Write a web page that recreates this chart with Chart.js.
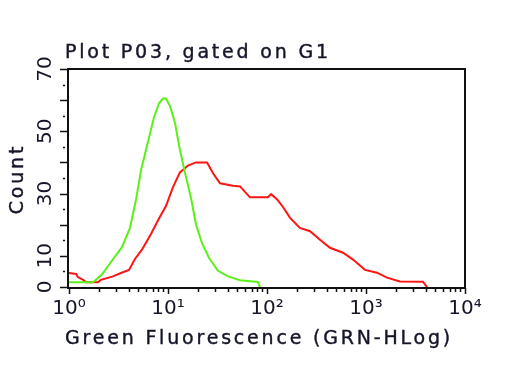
<!DOCTYPE html>
<html>
<head>
<meta charset="utf-8">
<script src="https://cdn.jsdelivr.net/npm/chart.js@4"></script>
<style>
  html, body { margin: 0; padding: 0; background: #fff; }
</style>
</head>
<body>
<canvas id="histChart" width="512" height="384"></canvas>
<script>
(() => {
  "use strict";

  const plotTitle = "Plot P03, gated on G1";
  const xTitle = "Green Fluorescence (GRN-HLog)";
  const yTitle = "Count";

  // tick labels
  const xTickLabels = ["10⁰", "10¹", "10²", "10³", "10⁴"];
  const yTickLabels = [0, 10, 30, 50, 70];

  // green histogram (control)
  const greenX = [1, 1.75, 2.15, 2.72, 3.43, 4.13, 4.75, 5.34, 6.21, 7.22, 8.11, 8.9, 9.54,
    10.5, 11.8, 13.2, 14.9, 17.1, 19.2, 22.1, 26, 32, 40.4, 53.4, 81, 85];
  const greenY = [1.5, 1.5, 4, 8.5, 12.8, 19, 28, 37.5, 46, 54.5, 59, 60.5, 60.5,
    58, 52.5, 44, 36.5, 28.5, 20, 14, 9.3, 5.2, 3.4, 2.2, 1.6, 0];

  // red histogram (stained)
  const redX = [1, 1.18, 1.23, 1.39, 1.49, 1.96, 2.1, 2.78, 3.35, 4.04, 4.64, 5.46, 6.73,
    8.11, 9.54, 11.2, 13.2, 15.9, 19.2, 24.8, 28.5, 33.5, 45.4, 53.4, 67.3, 102, 110, 126,
    145, 171, 215, 272, 343, 433, 586, 739, 977, 1291, 1630, 2205, 3765, 4130];
  const redY = [4.5, 4.2, 3.2, 2.3, 1.5, 1.5, 2.3, 3.4, 4.5, 5.5, 9, 12, 17,
    22, 26, 32, 36.8, 39, 40, 40, 36.5, 33.3, 32.5, 32.3, 28.8, 28.8, 29.8, 28.2,
    25.7, 22.2, 19, 17.9, 15.2, 12.6, 11, 8.8, 5.5, 4.6, 3, 1.8, 1.7, 0];

  const textColor = "#15152a";
  const fontFamily = "'DejaVu Sans', Verdana, sans-serif";

  const toPoints = (xs, ys) => xs.map((x, i) => ({ x: x, y: ys[i] }));

  // spaced-out text, slightly heavier like the source software
  const spacedText = (ctx, text, x, y) => {
    ctx.fillText(text, x, y);
    ctx.strokeText(text, x, y);
  };

  // frame, tick marks and titles
  const frame = {
    id: "frame",
    afterDraw(chart) {
      const { ctx, chartArea: a, scales } = chart;
      const x = scales.x, y = scales.y;
      ctx.save();
      ctx.strokeStyle = "#111";
      ctx.lineWidth = 2;
      ctx.strokeRect(a.left - 1, a.top, a.right - a.left + 1, a.bottom - a.top + 1);

      ctx.lineWidth = 1.5;
      ctx.beginPath();
      for (let v = 0; v <= 70; v += 5) {
        const py = Math.round(y.getPixelForValue(v)) + 0.5;
        if (v % 10 === 0) {
          ctx.moveTo(a.left - 9, py);
          ctx.lineTo(a.left - 2, py);
        } else {
          ctx.moveTo(a.left - 6, py);
          ctx.lineTo(a.left - 4, py);
        }
      }
      for (let d = 1; d < 10000; d *= 10) {
        for (let m = 1; m <= 10; m++) {
          if (m === 10 && d < 1000) continue;
          const px = Math.round(x.getPixelForValue(m * d)) + 0.5;
          const len = (m === 1 || m === 10) ? 6 : 4;
          ctx.moveTo(px, a.bottom + 1);
          ctx.lineTo(px, a.bottom + 1 + len);
        }
      }
      ctx.stroke();

      ctx.fillStyle = textColor;
      ctx.strokeStyle = textColor;
      ctx.lineWidth = 0.4;
      ctx.font = "19px " + fontFamily;
      ctx.letterSpacing = "2.8px";
      ctx.textBaseline = "alphabetic";
      ctx.textAlign = "left";
      spacedText(ctx, plotTitle, 65, 58);
      spacedText(ctx, xTitle, 65, 344);
      ctx.translate(23, (a.top + a.bottom) / 2 + 1);
      ctx.rotate(-Math.PI / 2);
      ctx.textAlign = "center";
      spacedText(ctx, yTitle, 0, 0);
      ctx.restore();
    }
  };

  const ctx = document.getElementById("histChart");
  // eslint-disable-next-line no-unused-vars
  const histChart = new Chart(ctx, {
    type: "line",
    data: {
      datasets: [
        {
          label: "Control",
          data: toPoints(greenX, greenY),
          borderColor: "#5cf01a",
          borderWidth: 2,
          pointRadius: 0,
          fill: false,
        },
        {
          label: "Sample",
          data: toPoints(redX, redY),
          borderColor: "#ff1414",
          borderWidth: 2,
          pointRadius: 0,
          fill: false,
        },
      ],
    },
    options: {
      responsive: false,
      animation: false,
      layout: {
        padding: { top: 69, right: 47, left: 0, bottom: 0 },
      },
      plugins: {
        legend: { display: false },
        tooltip: { enabled: false },
      },
      scales: {
        x: {
          type: "logarithmic",
          min: 1,
          max: 10000,
          grid: { display: false, drawTicks: false },
          border: { display: false },
          ticks: {
            autoSkip: false,
            maxRotation: 0,
            padding: 10,
            color: textColor,
            font: { family: fontFamily, size: 20 },
            callback: (v) => {
              const e = Math.log10(v);
              return Math.abs(e - Math.round(e)) < 1e-9 ? xTickLabels[Math.round(e)] : "";
            },
          },
          afterFit: (s) => { s.height = 97; },
        },
        y: {
          min: 0,
          max: 70,
          grid: { display: false, drawTicks: false },
          border: { display: false },
          ticks: {
            stepSize: 5,
            autoSkip: false,
            minRotation: 90,
            maxRotation: 90,
            crossAlign: "center",
            padding: 10,
            color: textColor,
            font: { family: fontFamily, size: 20 },
            callback: (v) => (yTickLabels.includes(v) ? String(v) : ""),
          },
          afterFit: (s) => { s.width = 69; },
        },
      },
    },
    plugins: [frame],
  });
})();
</script>
</body>
</html>
